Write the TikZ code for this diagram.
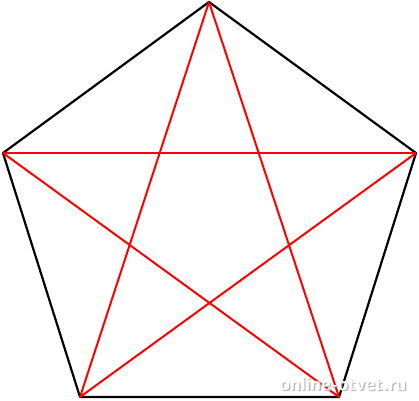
\documentclass[tikz,border=0pt]{standalone}
\begin{document}
\begin{tikzpicture}[x=1pt,y=-1pt,
  edge/.style={black,line width=2.2pt,line join=round},
  diag/.style={red,line width=2pt},
  wm/.style={font=\sffamily\bfseries\fontsize{19}{19}\selectfont}]
\useasboundingbox (0,0) rectangle (419,400);
\coordinate (T) at (209,2);
\coordinate (L) at (3,153);
\coordinate (R) at (416,153);
\coordinate (BL) at (80,397);
\coordinate (BR) at (339,397);
\draw[edge] (T) -- (R) -- (BR) -- (BL) -- (L) -- cycle;
\draw[diag] (T) -- (BL);
\draw[diag] (T) -- (BR);
\draw[diag] (L) -- (R);
\draw[diag] (L) -- (BR);
\draw[diag] (R) -- (BL);
\node[wm,text=black!30] (wms) at (344.2,385.2) {online-otvet.ru};
\node[wm,text=white] (wmt) at (343,384) {online-otvet.ru};
\end{tikzpicture}
\end{document}
